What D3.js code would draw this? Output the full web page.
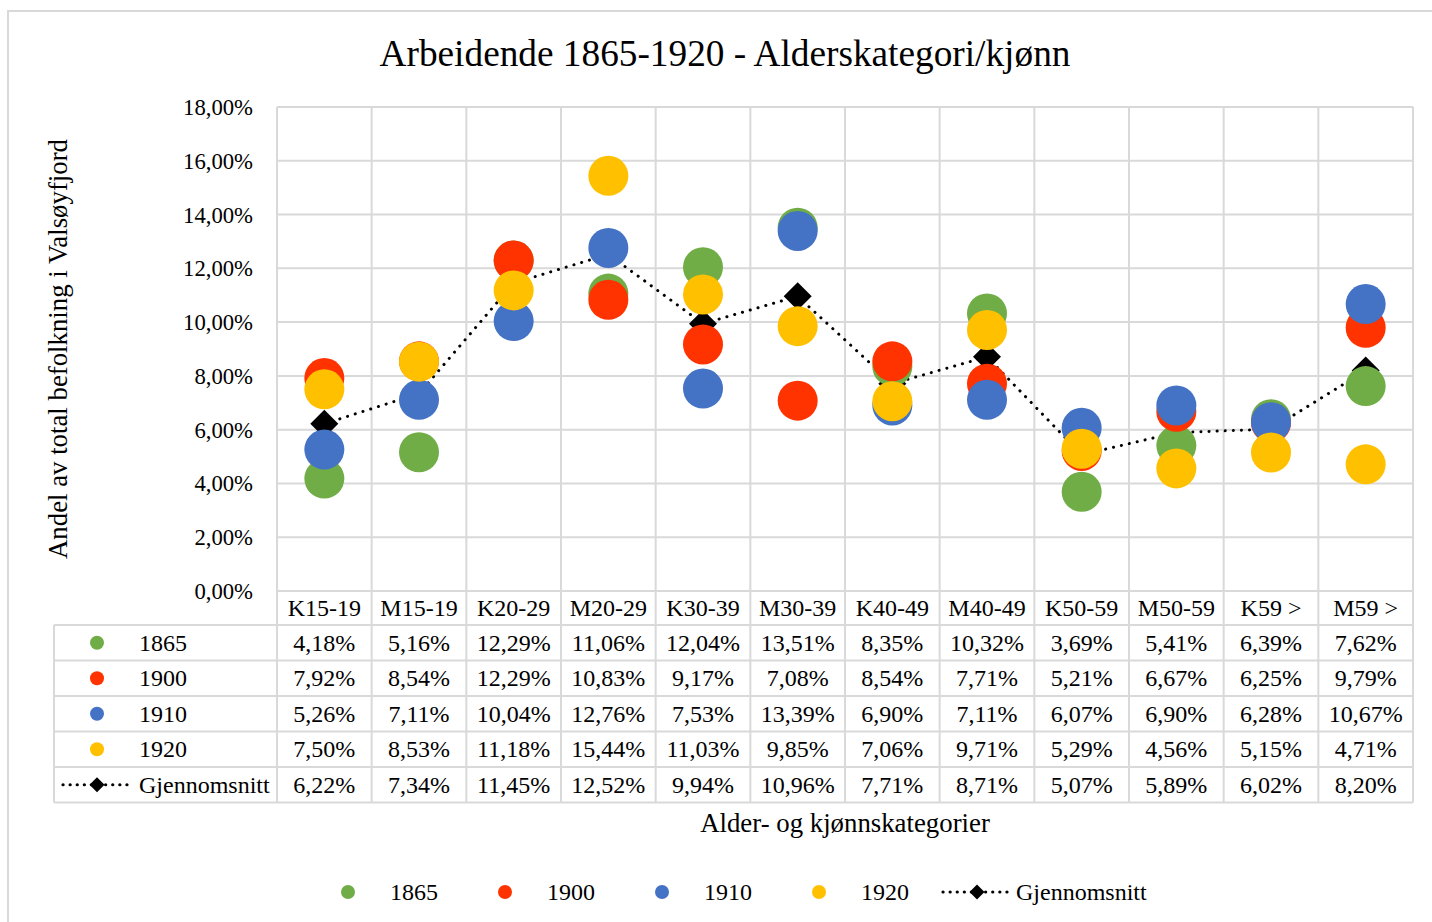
<!DOCTYPE html>
<html>
<head>
<meta charset="utf-8">
<script src="https://cdn.jsdelivr.net/npm/d3@7"></script>
<style>
  body { margin: 0; background: #fff; }
  svg text { font-family: "Liberation Serif", "Times New Roman", serif; fill: #000; }
</style>
</head>
<body>
<div id="chart"></div>
<script>
// Arbeidende 1865-1920: share of population by age/sex category, with data table below

const categories = ["K15-19", "M15-19", "K20-29", "M20-29", "K30-39", "M30-39",
                    "K40-49", "M40-49", "K50-59", "M50-59", "K59 >", "M59 >"];
const years = ["1865", "1900", "1910", "1920"];
const v1865 = [4.18, 5.16, 12.29, 11.06, 12.04, 13.51, 8.35, 10.32, 3.69, 5.41, 6.39, 7.62];
const v1900 = [7.92, 8.54, 12.29, 10.83, 9.17, 7.08, 8.54, 7.71, 5.21, 6.67, 6.25, 9.79];
const v1910 = [5.26, 7.11, 10.04, 12.76, 7.53, 13.39, 6.90, 7.11, 6.07, 6.90, 6.28, 10.67];
const v1920 = [7.50, 8.53, 11.18, 15.44, 11.03, 9.85, 7.06, 9.71, 5.29, 4.56, 5.15, 4.71];
const avg   = [6.22, 7.34, 11.45, 12.52, 9.94, 10.96, 7.71, 8.71, 5.07, 5.89, 6.02, 8.20];
const yTicks = [0, 2, 4, 6, 8, 10, 12, 14, 16, 18];

const COLORS = { "1865": "#70AD47", "1900": "#FF3300", "1910": "#4472C4", "1920": "#FFC000" };
const series = [
  { name: "1865", values: v1865 },
  { name: "1900", values: v1900 },
  { name: "1910", values: v1910 },
  { name: "1920", values: v1920 }
];
const avgName = "Gjennomsnitt";

const W = 1432, H = 922;
const plot = { left: 277, right: 1413, top: 107, bottom: 591 };
const tableLeft = 54;
const rowH = 35.5;
const gridColor = "#d9d9d9";
const fmt = v => v.toFixed(2).replace(".", ",") + "%";

const svg = d3.select("#chart").append("svg")
  .attr("width", W).attr("height", H);

// outer chart border (runs off right/bottom)
svg.append("rect")
  .attr("x", 8).attr("y", 11).attr("width", 1500).attr("height", 1000)
  .attr("fill", "none").attr("stroke", gridColor).attr("stroke-width", 2);

const x = d3.scaleBand().domain(categories).range([plot.left, plot.right]);
const y = d3.scaleLinear().domain([0, 18]).range([plot.bottom, plot.top]);

// title
svg.append("text")
  .attr("x", 725).attr("y", 66)
  .attr("text-anchor", "middle")
  .style("font-size", "37.3px")
  .text("Arbeidende 1865-1920 - Alderskategori/kjønn");

// horizontal gridlines
svg.append("g").selectAll("line")
  .data(yTicks).join("line")
  .attr("x1", plot.left).attr("x2", plot.right)
  .attr("y1", d => y(d)).attr("y2", d => y(d))
  .attr("stroke", gridColor).attr("stroke-width", 2);

// y tick labels
svg.append("g").selectAll("text")
  .data(yTicks).join("text")
  .attr("x", 253).attr("y", d => y(d) + 8)
  .attr("text-anchor", "end")
  .style("font-size", "22.7px")
  .text(d => d.toFixed(2).replace(".", ",") + "%");

// y axis title
svg.append("text")
  .attr("transform", `translate(67,349) rotate(-90)`)
  .attr("text-anchor", "middle")
  .style("font-size", "26.8px")
  .text("Andel av total befolkning i Valsøyfjord");

// table geometry
const nRows = series.length + 1;
const tableTop = plot.bottom + 34;
const tableBottom = tableTop + nRows * rowH;

// vertical gridlines: category boundaries from plot top to table bottom
const bounds = categories.map(c => x(c)).concat([plot.right]);
svg.append("g").selectAll("line")
  .data(bounds).join("line")
  .attr("x1", d => d).attr("x2", d => d)
  .attr("y1", plot.top).attr("y2", tableBottom)
  .attr("stroke", gridColor).attr("stroke-width", 2);

// table horizontal lines
const rowLines = d3.range(nRows + 1).map(i => tableTop + i * rowH);
svg.append("g").selectAll("line")
  .data(rowLines).join("line")
  .attr("x1", tableLeft).attr("x2", plot.right)
  .attr("y1", d => d).attr("y2", d => d)
  .attr("stroke", gridColor).attr("stroke-width", 2);
svg.append("line")
  .attr("x1", tableLeft).attr("x2", tableLeft)
  .attr("y1", tableTop).attr("y2", tableBottom)
  .attr("stroke", gridColor).attr("stroke-width", 2);

// category labels (header row)
svg.append("g").selectAll("text")
  .data(categories).join("text")
  .attr("x", d => x(d) + x.bandwidth() / 2)
  .attr("y", plot.bottom + 25)
  .attr("text-anchor", "middle")
  .style("font-size", "24px")
  .text(d => d);

// small legend key for the average series
function avgKey(g, x1, x2, cy) {
  g.append("line").attr("x1", x1).attr("x2", x2).attr("y1", cy).attr("y2", cy)
    .attr("stroke", "#000").attr("stroke-width", 3.2)
    .attr("stroke-dasharray", "0.1 7").attr("stroke-linecap", "round");
  g.append("path").attr("transform", `translate(${(x1 + x2) / 2},${cy})`)
    .attr("d", "M0,-7.5L7.5,0L0,7.5L-7.5,0Z").attr("fill", "#000");
}

// table rows
const tableRows = series.map(s => ({ name: s.name, values: s.values, color: COLORS[s.name] }))
  .concat([{ name: avgName, values: avg, color: null }]);

tableRows.forEach((r, i) => {
  const cy = tableTop + i * rowH + rowH / 2;
  const g = svg.append("g");
  if (r.color) {
    g.append("circle").attr("cx", 97).attr("cy", cy).attr("r", 7).attr("fill", r.color);
  } else {
    avgKey(g, 63, 131, cy);
  }
  g.append("text").attr("x", 139).attr("y", cy + 8).style("font-size", "24px").text(r.name);
  g.selectAll("text.val")
    .data(r.values).join("text")
    .attr("class", "val")
    .attr("x", (d, j) => x(categories[j]) + x.bandwidth() / 2)
    .attr("y", cy + 8)
    .attr("text-anchor", "middle")
    .style("font-size", "24px")
    .text(d => fmt(d));
});

// x axis title
svg.append("text")
  .attr("x", 845).attr("y", 832)
  .attr("text-anchor", "middle")
  .style("font-size", "26.8px")
  .text("Alder- og kjønnskategorier");

// average line (drawn beneath the circles)
const cx = i => x(categories[i]) + x.bandwidth() / 2;
const line = d3.line().x((d, i) => cx(i)).y(d => y(d));
svg.append("path")
  .datum(avg)
  .attr("d", line)
  .attr("fill", "none")
  .attr("stroke", "#000")
  .attr("stroke-width", 3)
  .attr("stroke-linecap", "round")
  .attr("stroke-dasharray", "0.1 8");
svg.append("g").selectAll("path")
  .data(avg).join("path")
  .attr("transform", (d, i) => `translate(${cx(i)},${y(d)})`)
  .attr("d", "M0,-14L14,0L0,14L-14,0Z")
  .attr("fill", "#000");

// scatter circles
series.forEach(s => {
  svg.append("g").selectAll("circle")
    .data(s.values).join("circle")
    .attr("cx", (d, i) => cx(i))
    .attr("cy", d => y(d))
    .attr("r", 20)
    .attr("fill", COLORS[s.name]);
});

// bottom legend
const legendItems = [
  { name: "1865", mx: 348, tx: 390 },
  { name: "1900", mx: 505, tx: 547 },
  { name: "1910", mx: 662, tx: 704 },
  { name: "1920", mx: 819, tx: 861 }
];
const lg = svg.append("g");
const ly = 892;
legendItems.forEach(it => {
  lg.append("circle").attr("cx", it.mx).attr("cy", ly).attr("r", 7).attr("fill", COLORS[it.name]);
  lg.append("text").attr("x", it.tx).attr("y", ly + 8).style("font-size", "24px").text(it.name);
});
avgKey(lg, 943, 1011, ly);
lg.append("text").attr("x", 1016).attr("y", ly + 8).style("font-size", "24px").text(avgName);
</script>
</body>
</html>
